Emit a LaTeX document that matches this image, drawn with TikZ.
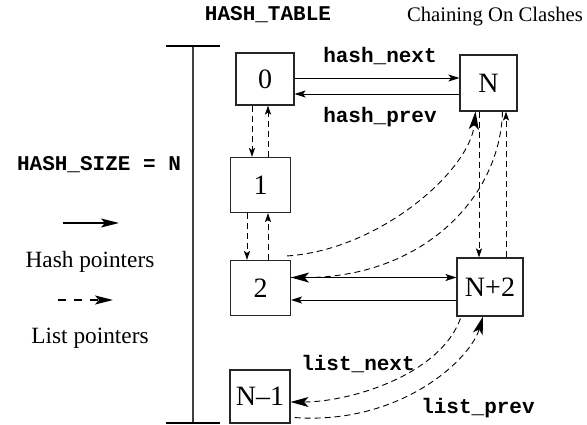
\documentclass[tikz,border=0pt]{standalone}
\usepackage{fontspec}
\setmainfont{Liberation Serif}
\newfontfamily\codefont{Liberation Mono}
\usetikzlibrary{arrows.meta,calc}

\tikzset{
  cell/.style={draw=black!85, line width=1.1pt, inner sep=0pt,
    font=\fontsize{28}{30}\selectfont},
  code/.style={font=\codefont\bfseries\fontsize{21}{24}\selectfont,
    inner sep=0pt, anchor=base},
  legendtext/.style={font=\fontsize{23.3}{26}\selectfont, inner sep=0pt, anchor=base},
  titletext/.style={font=\fontsize{20.7}{24}\selectfont, inner sep=0pt, anchor=base},
  hash/.style={line width=0.9pt, -{Stealth[length=11pt,width=7pt,inset=2.5pt]}},
  list/.style={line width=0.9pt, dash pattern=on 6pt off 4pt,
    -{Stealth[length=9pt,width=6pt,inset=2pt]}},
  biglist/.style={line width=0.9pt, dash pattern=on 6pt off 4pt,
    -{Stealth[length=18pt,width=10pt,inset=4.5pt]}},
  legendhash/.style={line width=1.3pt, -{Stealth[length=18pt,width=9pt,inset=4pt]}},
  legendlist/.style={line width=1.3pt, dash pattern=on 8pt off 8pt,
    -{Stealth[length=18pt,width=9pt,inset=4pt]}},
  bracket/.style={line width=1.3pt, draw=black!75},
  bracketbar/.style={line width=2.5pt},
}

\begin{document}
\begin{tikzpicture}[x=1pt,y=-1pt]
\useasboundingbox (0,0) rectangle (587,425);

% titles
\node[code] (tabletitle) at (268,21) {HASH\_TABLE};
\node[titletext] (chaintitle) at (495,22) {Chaining On Clashes};

% size bracket
\coordinate (brt) at (193,46);
\coordinate (brb) at (193,423);
\draw[bracket] (brt) -- (brb);
\draw[bracketbar] ([xshift=-27pt]brt) -- ([xshift=27pt]brt);
\draw[bracketbar] ([xshift=-27pt]brb) -- ([xshift=27pt]brb);
\node[code] (sizelabel) at (99,171) {HASH\_SIZE = N};

% legend
\coordinate (hs) at (63,223);
\coordinate (he) at (119,223);
\draw[legendhash] (hs) -- (he);
\node[legendtext] (hashleg) at (90,268) {Hash pointers};
\coordinate (ls) at (58,300);
\coordinate (le) at (113,300);
\draw[legendlist] (ls) -- (le);
\node[legendtext] (listleg) at (90,343) {List pointers};

% table cells
\node[cell, minimum width=58pt, minimum height=52pt] (b0) at (265,79) {0};
\node[cell, minimum width=57pt, minimum height=56pt] (bN) at (488.5,83) {N};
\node[cell, minimum width=60pt, minimum height=55pt] (b1) at (260.5,185) {1};
\node[cell, minimum width=60pt, minimum height=55pt] (b2) at (260.5,288) {2};
\node[cell, minimum width=66pt, minimum height=58pt] (bN2) at (490,287) {N+2};
\node[cell, minimum width=60pt, minimum height=53pt] (bN1) at (260,396.5) {N\textendash1};

% hash chain links
\draw[hash] ([yshift=1pt]b0.east) -- ([yshift=1pt]b0.east -| bN.west);
\draw[hash] ([yshift=-11pt]bN.west) -- ([yshift=-11pt]bN.west -| b0.east);
\draw[hash] ([yshift=10.5pt]b2.east) -- ([yshift=10.5pt]b2.east -| bN2.west);
\draw[hash] ([yshift=-13pt]bN2.west) -- ([yshift=-13pt]bN2.west -| b2.east);
\node[code] (lhn) at (380,63) {hash\_next};
\node[code] (lhp) at (380,123) {hash\_prev};

% list links down the table
\draw[list] ([xshift=-13pt]b0.south) -- ([xshift=-13pt]b0.south |- b1.north);
\draw[list] ([xshift=7.5pt]b1.north) -- ([xshift=7.5pt]b1.north |- b0.south);
\draw[list] ([xshift=-13.5pt]b1.south) -- ([xshift=-13.5pt]b1.south |- b2.north);
\draw[list] ([xshift=7.5pt]b2.north) -- ([xshift=7.5pt]b2.north |- b1.south);
\draw[list] ([xshift=-9.5pt]bN.south) -- ([xshift=-9.5pt]bN.south |- bN2.north);
\draw[list] ([xshift=16pt]bN2.north) -- ([xshift=16pt]bN2.north |- bN.south);

% curved list links
\draw[biglist] ([xshift=-4pt,yshift=4pt]b2.north east)
  .. controls (380,250) and (470,170) .. ([xshift=-13pt]bN.south);
\draw[biglist] ([xshift=14pt]bN.south)
  .. controls (500,200) and (420,278) .. ([yshift=10.5pt]b2.east);
\draw[biglist] ([xshift=4pt,yshift=-2pt]bN2.south west)
  .. controls (440,375) and (350,402) .. ([yshift=-5.5pt]bN1.east);
\draw[biglist] ([xshift=4pt,yshift=6pt]bN1.south east)
  .. controls (400,425) and (470,360) .. ([xshift=-7pt]bN2.south);
\node[code] (lln) at (358,370) {list\_next};
\node[code] (llp) at (478,413) {list\_prev};
\end{tikzpicture}
\end{document}
